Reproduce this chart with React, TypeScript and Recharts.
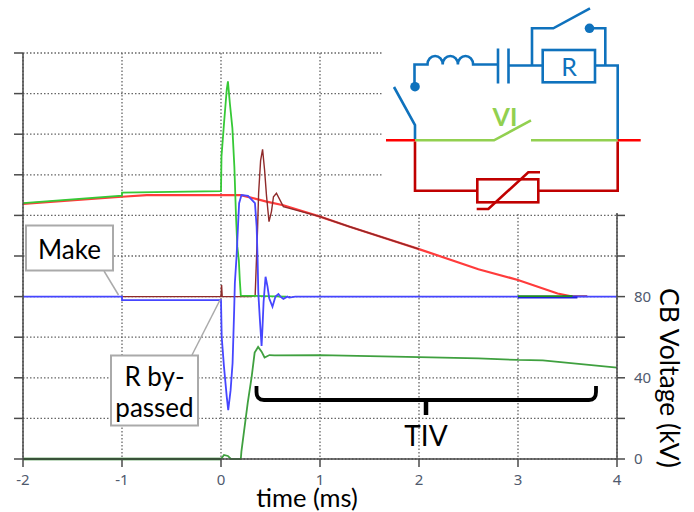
import { ComposedChart, Line, XAxis, YAxis, CartesianGrid } from 'recharts';

// time (ms), voltage (kV)
const upperGreenT = [-2, -1, -1, 0, 0.005, 0.03, 0.058, 0.07, 0.09, 0.115, 0.135, 0.152, 0.165, 0.18, 0.19, 0.2, 0.66];
const upperGreenV = [126, 129.7, 131.2, 132, 149, 165, 182, 186, 175, 163, 144, 119, 104.6, 98, 88, 80.5, 80];
const tailGreenT = [3, 3.55];
const tailGreenV = [80.2, 80.2];

const redT = [-2, -1, -0.75, 0, 0.2, 0.46, 0.63, 1, 1.3, 2, 2.6, 3, 3.4, 3.55];
const redV = [125.7, 129.2, 130, 130, 130, 126.8, 125, 119.4, 114.4, 103.4, 93.5, 88.2, 81.5, 80];

const maroonT = [-1, 0, 0.006, 0.012, 0.03, 0.3, 0.345, 0.355, 0.37, 0.38, 0.4, 0.42, 0.44, 0.46, 0.485, 0.51, 0.53, 0.56, 0.63, 1, 1.3, 2];
const maroonV = [80, 80, 85.7, 80, 80, 80, 80.5, 94, 114.4, 131, 147, 152.5, 142.5, 129.5, 116.9, 122, 129.2, 130.9, 124.3, 119.4, 114.4, 103.4];
const maroonTailT = [3.45, 3.7];
const maroonTailV = [80.2, 80.2];

const blueT = [-2, -1, -1, 0, 0.007, 0.03, 0.058, 0.073, 0.097, 0.117, 0.133, 0.14, 0.157, 0.173, 0.183, 0.207, 0.273, 0.343, 0.36, 0.37, 0.377, 0.393, 0.41, 0.42, 0.43, 0.45, 0.47, 0.487, 0.52, 0.55, 0.58, 0.6, 0.63, 0.67, 0.69, 0.75, 4];
const blueV = [80, 80, 78.3, 78.3, 60.2, 45.5, 30.7, 24.1, 33.9, 47.3, 73.4, 86.7, 99.6, 116, 126, 130, 129.6, 126, 114.4, 98, 81.7, 68.5, 55.7, 65.7, 77.2, 89.8, 84.9, 79.2, 75, 80, 81.3, 80, 78.9, 80, 79.5, 80, 80];
const tailBlueT = [3, 3.6];
const tailBlueV = [79.5, 79.5];

const baseGreenT = [-2, 0];
const baseGreenV = [0, 0];
const lowerGreenT = [0, 0.03, 0.07, 0.1, 0.2, 0.206, 0.27, 0.31, 0.34, 0.375, 0.41, 0.44, 0.49, 0.54, 1, 2, 2.6, 3, 3.25, 4];
const lowerGreenV = [0, 2, 1.5, 0, 0, 3.6, 27.6, 40.6, 52.4, 55.2, 52.9, 50, 51.2, 51, 51.2, 50.2, 49.6, 48.8, 48.6, 45];

const xTicks = [-2, -1, 0, 1, 2, 3, 4];
const leftTicks = [0, 20, 40, 60, 80, 100, 120, 140, 160, 180, 200];
const rightTicks = [0, 20, 40, 60, 80, 100, 120];
const rightLabels = [0, 40, 80];

const pairs = (t: number[], v: number[]) => t.map((x, i) => ({ t: x, v: v[i] }));

const AXIS = '#4a4a4a';
const LABEL = '#4f5a6e';
const LATO = 'Lato, sans-serif';
const TICK_FONT = { fill: LABEL, fontSize: 15, fontFamily: 'Noto Sans' };
const BLUE = '#0f72bd';
const LEAF = '#92d050';
const DEEP_RED = '#c00000';

function trace(t: number[], v: number[], color: string, width = 1.8, axis = 'left') {
  return (
    <Line
      yAxisId={axis}
      data={pairs(t, v)}
      dataKey="v"
      type="linear"
      stroke={color}
      strokeWidth={width}
      dot={false}
      legendType="none"
      isAnimationActive={false}
    />
  );
}

function Overlay() {
  const wire = { fill: 'none', strokeLinejoin: 'miter' as const };
  return (
    <svg width={694} height={512} style={{ position: 'absolute', left: 0, top: 0 }}>
      <rect x={382} y={0} width={312} height={213} fill="#fff" />

      <g stroke={BLUE} strokeWidth={2.6} {...wire}>
        <path d="M394 87 L415 125 V140" />
        <path d="M414.5 87 V64.5 H427.5 a7.6 8.5 0 0 1 15.2 0 a7.6 8.5 0 0 1 15.2 0 a7.6 8.5 0 0 1 15.2 0 H498" />
        <path d="M498 48.5 V83.5 M508.5 48.5 V83.5" />
        <path d="M508.5 65.5 H542.5 M595 65.5 H617.7 V140" />
        <rect x={542.7} y={50} width={52.3} height={32.3} />
        <path d="M532 65.5 V28.3 H553.3 L590 8.3" />
        <path d="M589 28.3 H605.3 V65.5" />
      </g>
      <circle cx={415} cy={86.7} r={4.8} fill={BLUE} />
      <circle cx={589.5} cy={28.3} r={4.8} fill={BLUE} />
      <text x={569} y={75.5} textAnchor="middle" fontFamily={LATO} fontSize={25} fill={BLUE}>R</text>

      <path d="M415 140.3 H494 L531 120.3 M531 140.3 H617.7" stroke={LEAF} strokeWidth={2.6} fill="none" />
      <text x={505} y={126} textAnchor="middle" fontFamily={LATO} fontSize={25} fontWeight={700} fill={LEAF}>VI</text>

      <g stroke={DEEP_RED} strokeWidth={2.6} {...wire}>
        <path d="M415 141.5 V190.7 H477.3 M538.3 190.7 H617.7 V141.5" />
        <rect x={477.3} y={179.3} width={61} height={23} />
        <path d="M476.7 209 H488.3 L528.3 172.3 H540" />
      </g>
      <path d="M386 140.3 H415 M617.7 140.3 H640.7" stroke="#ff0000" strokeWidth={2.6} fill="none" />

      <path d="M104 271 L118.5 295" stroke="#aaa" strokeWidth={1.5} />
      <rect x={26} y={225.5} width={87} height={45} fill="#fff" stroke="#aaa" strokeWidth={2} />
      <text x={69.5} y={259} textAnchor="middle" fontFamily={LATO} fontSize={26} fill="#000">Make</text>

      <path d="M192 355 L220 300" stroke="#aaa" strokeWidth={1.5} />
      <rect x={111} y={355.5} width={87} height={70} fill="#fff" stroke="#aaa" strokeWidth={2} />
      <text x={154.5} y={386} textAnchor="middle" fontFamily={LATO} fontSize={26} fill="#000">R by-</text>
      <text x={154.5} y={416.5} textAnchor="middle" fontFamily={LATO} fontSize={26} fill="#000">passed</text>

      <path
        d="M256.5 386 V392 Q256.5 400 264 400 H589 Q596 400 596 392 V386"
        stroke="#000"
        strokeWidth={3.8}
        fill="none"
      />
      <path d="M426 400 V415" stroke="#000" strokeWidth={4.5} fill="none" />
      <text x={426} y={445.5} textAnchor="middle" fontFamily={LATO} fontSize={28} fill="#000">TIV</text>

      <text x={307} y={507} textAnchor="middle" fontFamily={LATO} fontSize={25.5} fill="#000">time (ms)</text>
      <text
        transform="translate(660 378) rotate(90)"
        textAnchor="middle"
        fontFamily={LATO}
        fontSize={26.5}
        fill="#000"
      >
        CB Voltage (kV)
      </text>
    </svg>
  );
}

export default function App() {
  return (
    <div style={{ position: 'absolute', left: 0, top: 0, width: 694, height: 512, background: '#fff' }}>
      <ComposedChart width={694} height={512} margin={{ top: 53, right: 76, bottom: 52, left: 22 }}>
        <CartesianGrid yAxisId="left" stroke="#666" strokeWidth={1.3} strokeDasharray="1.5 2" />
        <XAxis
          dataKey="t"
          type="number"
          domain={[-2, 4]}
          ticks={xTicks}
          allowDuplicatedCategory={false}
          height={1}
          tickSize={8}
          tickMargin={7}
          stroke={AXIS}
          strokeWidth={1.5}
          tick={TICK_FONT}
        />
        <YAxis
          yAxisId="left"
          domain={[0, 200]}
          ticks={leftTicks}
          interval={0}
          width={1}
          tickSize={9}
          stroke={AXIS}
          strokeWidth={1.5}
          tickFormatter={() => ''}
        />
        <YAxis
          yAxisId="right"
          orientation="right"
          domain={[0, 200]}
          ticks={rightTicks}
          interval={0}
          width={1}
          tickSize={8}
          tickMargin={9}
          stroke={AXIS}
          strokeWidth={1.5}
          tick={TICK_FONT}
          tickFormatter={(v: number) => (rightLabels.includes(v) ? String(v) : '')}
        />
        {trace(redT, redV, '#ff3b3b', 2.2)}
        {trace(maroonT, maroonV, '#8f2a2a', 1.4)}
        {trace(maroonTailT, maroonTailV, '#7a1f5a')}
        {trace(upperGreenT, upperGreenV, '#36c936')}
        {trace(blueT, blueV, '#4646ff')}
        {trace(tailBlueT, tailBlueV, '#2020dd', 2)}
        {trace(tailGreenT, tailGreenV, '#1f8f1f')}
        {trace(baseGreenT, baseGreenV, '#0b6b0b', 2.5, 'right')}
        {trace(lowerGreenT, lowerGreenV, '#3fa03f', 1.8, 'right')}
      </ComposedChart>
      <Overlay />
    </div>
  );
}
